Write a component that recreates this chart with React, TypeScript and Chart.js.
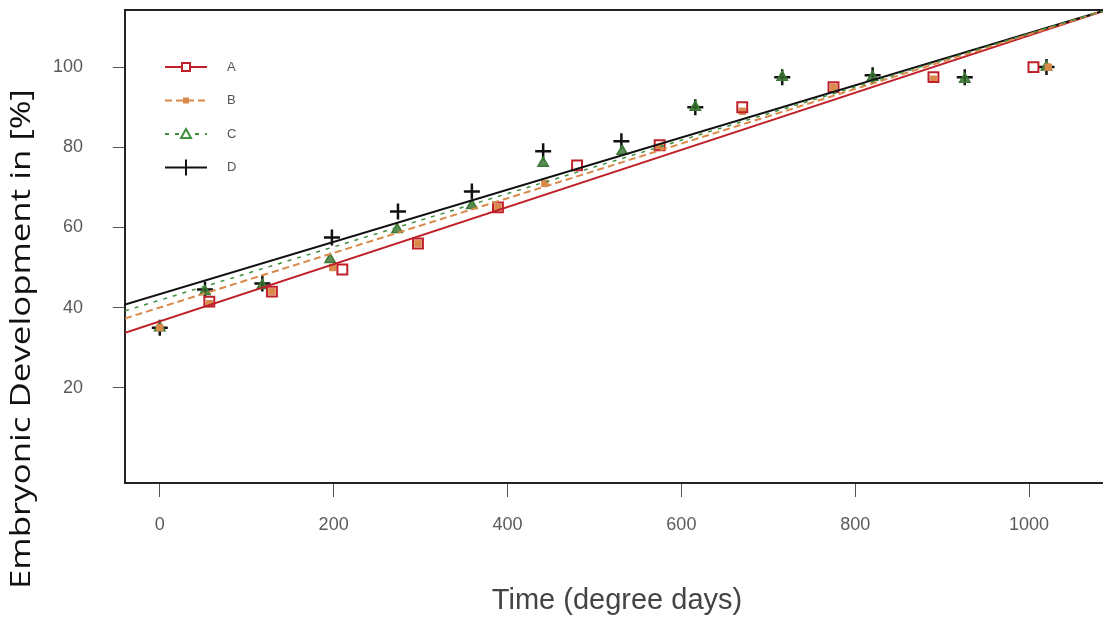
import React, { useEffect, useRef } from 'react';
import { Chart, registerables } from 'chart.js';

Chart.register(...registerables);

// ---- data ----
const seriesNames = ['A', 'B', 'C', 'D'];

const aX = [57, 129, 210, 297, 389, 480, 575, 670, 775, 890, 1005];
const aY = [41.5, 44, 49.5, 56, 65, 75.5, 80.5, 90, 95, 97.5, 100];

const bX = [0, 57, 129, 199, 297, 389, 443, 575, 670, 775, 890, 1022];
const bY = [35, 41, 44, 50, 56, 65, 71, 80, 89, 95, 97, 100];

const cX = [0, 52, 118, 196, 273, 359, 441, 532, 616, 716, 820, 926, 1020];
const cY = [35, 44, 45.5, 52, 59.5, 65.5, 76, 79, 90, 97.5, 97.5, 97, 100];

const dX = [0, 52, 118, 198, 274, 359, 441, 531, 616, 716, 820, 926, 1020];
const dY = [35, 44.5, 46, 57.5, 64, 69, 79, 81.5, 90, 97.5, 98, 97.5, 100];

// fitted regression lines (end points)
const fitX = [-40, 1100];
const fitA = [33.75, 115];
const fitB = [37.3, 115];
const fitC = [39.2, 115];
const fitD = [40.75, 115];

const xTicks = [0, 200, 400, 600, 800, 1000];
const yTicks = [20, 40, 60, 80, 100];
const xLimits = [-40, 1085];
const yLimits = [-3.75, 114.25];

const xTitle = 'Time (degree days)';
const yTitle = 'Embryonic Development in [%]';

const colA = '#c0202a';
const colB = '#d98a4a';
const colC = '#3f8f3f';
const colD = '#111111';

const toPts = (xs: number[], ys: number[]) => xs.map((x, i) => ({ x, y: ys[i] }));

const framePlugin = {
  id: 'frameAndTitles',
  afterDraw(chart: any) {
    const { ctx, chartArea } = chart;
    ctx.save();
    // top border
    ctx.strokeStyle = '#222';
    ctx.lineWidth = 2;
    ctx.beginPath();
    ctx.moveTo(chartArea.left, chartArea.top);
    ctx.lineTo(chartArea.right + 2, chartArea.top);
    ctx.stroke();

    // axis titles
    ctx.fillStyle = '#444';
    ctx.font = '29px "Liberation Sans", Arial, sans-serif';
    ctx.textAlign = 'center';
    ctx.textBaseline = 'middle';
    ctx.fillText(xTitle, 617, 601);

    ctx.translate(22, 339);
    ctx.rotate(-Math.PI / 2);
    ctx.fillStyle = '#111';
    ctx.font = '27px "Open Sans", Lato, sans-serif';
    const w = ctx.measureText(yTitle).width;
    ctx.scale(500 / w, 1);
    ctx.fillText(yTitle, 0, 0);
    ctx.restore();

    // legend
    ctx.save();
    const items = [
      { c: colA, dash: [] as number[], shape: 'square' },
      { c: colB, dash: [7, 4], shape: 'dot' },
      { c: colC, dash: [4, 6], shape: 'tri' },
      { c: colD, dash: [] as number[], shape: 'plus' },
    ];
    const x0 = chartArea.left + 40;
    const y0 = 67;
    items.forEach((it, i) => {
      const y = y0 + i * 33.5;
      ctx.strokeStyle = it.c;
      ctx.lineWidth = 2;
      ctx.setLineDash(it.dash);
      ctx.beginPath();
      ctx.moveTo(x0, y);
      ctx.lineTo(x0 + 42, y);
      ctx.stroke();
      ctx.setLineDash([]);
      const cx = x0 + 21;
      if (it.shape === 'square') {
        ctx.fillStyle = '#fff';
        ctx.fillRect(cx - 4, y - 4, 8, 8);
        ctx.strokeRect(cx - 4, y - 4, 8, 8);
      } else if (it.shape === 'dot') {
        ctx.fillStyle = it.c;
        ctx.fillRect(cx - 3, y - 3, 6, 6);
      } else if (it.shape === 'tri') {
        ctx.fillStyle = '#fff';
        ctx.beginPath();
        ctx.moveTo(cx, y - 5);
        ctx.lineTo(cx + 5, y + 4);
        ctx.lineTo(cx - 5, y + 4);
        ctx.closePath();
        ctx.fill();
        ctx.stroke();
      } else {
        ctx.beginPath();
        ctx.moveTo(cx, y - 8);
        ctx.lineTo(cx, y + 8);
        ctx.stroke();
      }
      ctx.fillStyle = '#555';
      ctx.font = '13px "Liberation Sans", Arial, sans-serif';
      ctx.textAlign = 'left';
      ctx.textBaseline = 'middle';
      ctx.fillText(seriesNames[i], x0 + 62, y);
    });
    ctx.restore();
  },
};

export default function App() {
  const ref = useRef<HTMLCanvasElement | null>(null);
  useEffect(() => {
    if (!ref.current) return;
    const lineDs = (label: string, ys: number[], color: string, dash: number[], w: number) => ({
      type: 'line' as const,
      label,
      data: toPts(fitX, ys),
      borderColor: color,
      borderWidth: w,
      borderDash: dash,
      pointRadius: 0,
      fill: false,
      showLine: true,
    });
    const chart = new Chart(ref.current, {
      type: 'scatter',
      data: {
        datasets: [
          lineDs('fit C', fitC, colC, [4, 6], 1.5),
          lineDs('fit B', fitB, colB, [7, 4], 2),
          lineDs('fit D', fitD, colD, [], 2),
          lineDs('fit A', fitA, colA, [], 2),
          {
            label: 'A',
            data: toPts(aX, aY),
            pointStyle: 'rect',
            pointRadius: 7,
            borderColor: colA,
            backgroundColor: 'rgba(255,255,255,0)',
            borderWidth: 2,
          },
          {
            label: 'B',
            data: toPts(bX, bY),
            pointStyle: 'rect',
            pointRadius: 4.5,
            borderColor: colB,
            backgroundColor: colB,
            borderWidth: 1,
          },
          {
            label: 'C',
            data: toPts(cX, cY),
            pointStyle: 'triangle',
            pointRadius: 6,
            borderColor: '#3a7a34',
            backgroundColor: 'rgba(55,110,45,0.8)',
            borderWidth: 1.5,
          },
          {
            label: 'D',
            data: toPts(dX, dY),
            pointStyle: 'cross',
            pointRadius: 8,
            borderColor: colD,
            borderWidth: 2.5,
          },
        ] as any,
      },
      options: {
        animation: false,
        responsive: false,
        maintainAspectRatio: false,
        events: [],
        layout: { autoPadding: false, padding: { top: 10, right: 0, left: 0, bottom: 0 } },
        plugins: { legend: { display: false }, tooltip: { enabled: false } },
        scales: {
          x: {
            type: 'linear',
            min: xLimits[0],
            max: xLimits[1],
            afterBuildTicks: (s: any) => {
              s.ticks = xTicks.map((v) => ({ value: v }));
            },
            afterFit: (s: any) => {
              s.height = 136;
              s.paddingLeft = 0;
              s.paddingRight = 0;
            },
            grid: { display: true, drawOnChartArea: false, drawTicks: true, tickLength: 14, color: '#555', lineWidth: 1 },
            border: { display: true, color: '#222', width: 2 },
            ticks: {
              color: '#5a5a5a',
              padding: 17,
              font: { size: 18, family: '"Liberation Sans", Arial, sans-serif' },
              maxRotation: 0,
              callback: (v: any) => String(v),
            },
          },
          y: {
            type: 'linear',
            min: yLimits[0],
            max: yLimits[1],
            afterBuildTicks: (s: any) => {
              s.ticks = yTicks.map((v) => ({ value: v }));
            },
            afterFit: (s: any) => {
              s.width = 125;
              s.paddingTop = 0;
              s.paddingBottom = 0;
            },
            grid: { display: true, drawOnChartArea: false, drawTicks: true, tickLength: 12, color: '#555', lineWidth: 1 },
            border: { display: true, color: '#222', width: 2 },
            ticks: {
              color: '#5a5a5a',
              padding: 30,
              font: { size: 18, family: '"Liberation Sans", Arial, sans-serif' },
              callback: (v: any) => String(v),
            },
          },
        },
      },
      plugins: [framePlugin],
    });
    return () => chart.destroy();
  }, []);
  return (
    <div style={{ position: 'fixed', left: 0, top: 0, width: 1103, height: 619, overflow: 'hidden', background: '#fff' }}>
      <canvas ref={ref} width={1103} height={619} style={{ display: 'block' }} />
    </div>
  );
}
